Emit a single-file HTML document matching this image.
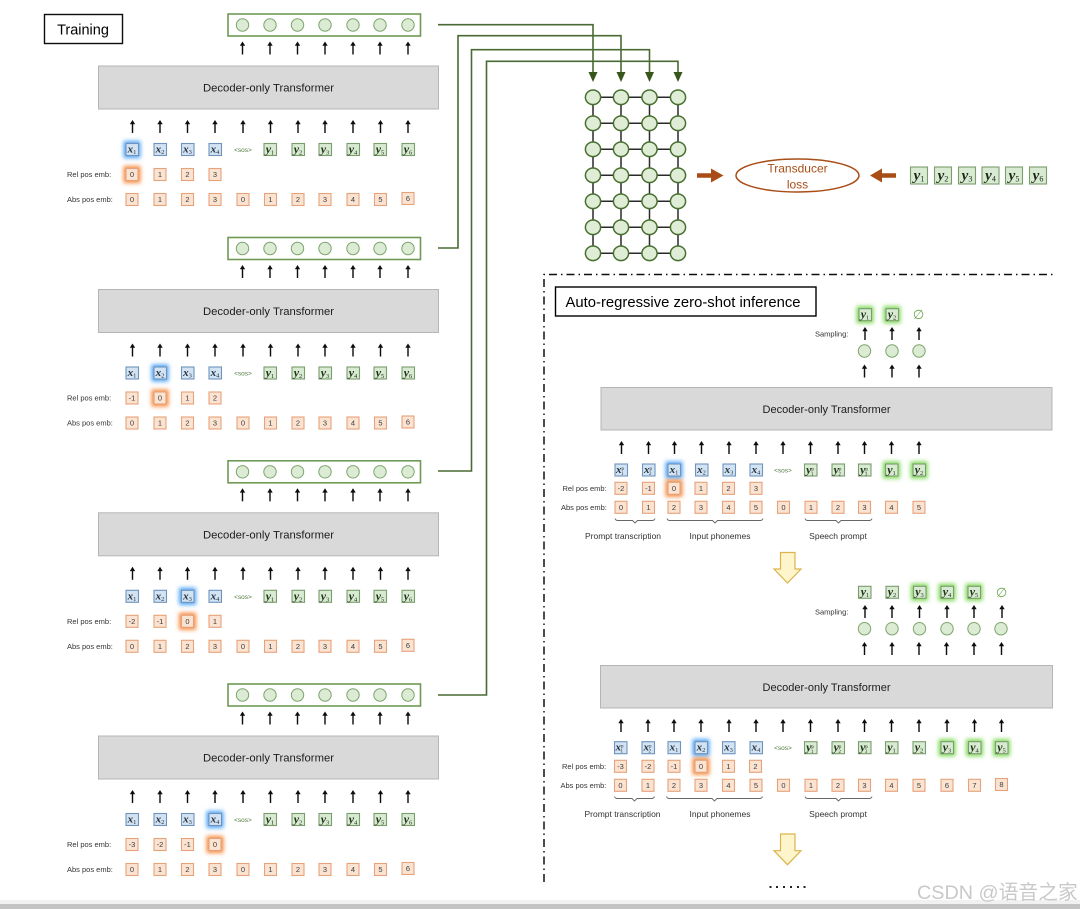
<!DOCTYPE html>
<html><head><meta charset="utf-8"><style>
html,body{margin:0;padding:0;background:#fff}
svg{display:block}
text{font-family:"Liberation Sans","Noto Sans CJK SC",sans-serif}
.d{font-size:11px;fill:#1c1c1c;text-anchor:middle}
.l{font-size:7.5px;fill:#333}
.c{font-size:8.5px;fill:#333;text-anchor:middle}
.n{font-size:7.5px;fill:#3c3c3c;text-anchor:middle}
.m{font-family:"Liberation Serif",serif;font-style:italic;font-weight:bold;font-size:11px;fill:#26303a;text-anchor:middle}
.g{fill:#1f3015;font-size:12px}
.s{font-size:6.5px;font-weight:normal;font-style:normal}
.sos{font-size:6.5px;fill:#4f7a3e;text-anchor:middle}
</style></head><body>
<svg xmlns="http://www.w3.org/2000/svg" width="1080" height="909" viewBox="0 0 1080 909">
<defs>
<filter id="soft" filterUnits="userSpaceOnUse" x="0" y="0" width="1080" height="909"><feGaussianBlur stdDeviation="0.22"/></filter>
<filter id="glow" x="-80%" y="-80%" width="260%" height="260%"><feGaussianBlur stdDeviation="2"/></filter>
<g id="a"><path d="M0 6.5V-3" stroke="#111" stroke-width="1.400" fill="none"/><path d="M-2.700-2.200L0-6.500L2.700-2.200Z" fill="#111"/></g>
<rect id="b" x="-6" y="-6" width="12.500" height="12" fill="#d2e3f3" stroke="#6f93bd" stroke-width="1.100"/>
<rect id="t" x="-6" y="-6" width="12.500" height="12" fill="#d9ead3" stroke="#7a9d6c" stroke-width="1.100"/>
<rect id="o" x="-6" y="-6" width="12" height="12" fill="#fbe3d2" stroke="#e6a27a" stroke-width="1.100"/>
<circle id="q" r="6.200" fill="#dcebd4" stroke="#7da56c" stroke-width="1"/>
<ellipse id="z" rx="7.600" ry="7.300" fill="#dfecd6" stroke="#47702f" stroke-width="1.500"/>
<rect id="gb" x="-8.500" y="-8.500" width="17" height="17" fill="#7ed957"/>
<rect id="bb" x="-8.500" y="-8.500" width="17" height="17" fill="#4da3f5"/>
<rect id="ob" x="-8.500" y="-8.500" width="17" height="17" fill="#f58b3f"/>
<g id="P">
<rect x="228" y="14" width="192.500" height="22" fill="#fff" stroke="#6e9a55" stroke-width="1.600"/>
<use href="#q" x="242.500" y="25"/><use href="#q" x="270" y="25"/><use href="#q" x="297.500" y="25"/><use href="#q" x="325" y="25"/><use href="#q" x="353" y="25"/><use href="#q" x="380" y="25"/><use href="#q" x="408" y="25"/>
<use href="#a" x="242.500" y="48"/><use href="#a" x="270" y="48"/><use href="#a" x="297.500" y="48"/><use href="#a" x="325" y="48"/><use href="#a" x="353" y="48"/><use href="#a" x="380" y="48"/><use href="#a" x="408" y="48"/>
<rect x="98.500" y="66" width="340" height="43" fill="#d9d9d9" stroke="#b5b5b5"/>
<use href="#a" x="132.500" y="126.500"/><use href="#a" x="160" y="126.500"/><use href="#a" x="187.500" y="126.500"/><use href="#a" x="215" y="126.500"/><use href="#a" x="243" y="126.500"/><use href="#a" x="270.500" y="126.500"/><use href="#a" x="298" y="126.500"/><use href="#a" x="325" y="126.500"/><use href="#a" x="353" y="126.500"/><use href="#a" x="380.500" y="126.500"/><use href="#a" x="408" y="126.500"/>
<use href="#b" x="132" y="149.500"/><use href="#b" x="160" y="149.500"/><use href="#b" x="187.500" y="149.500"/><use href="#b" x="215" y="149.500"/>
<use href="#t" x="270" y="149.500"/><use href="#t" x="298" y="149.500"/><use href="#t" x="325" y="149.500"/><use href="#t" x="353" y="149.500"/><use href="#t" x="380" y="149.500"/><use href="#t" x="408" y="149.500"/>
<use href="#o" x="132" y="174.500"/><use href="#o" x="160" y="174.500"/><use href="#o" x="187.500" y="174.500"/><use href="#o" x="215" y="174.500"/>
<use href="#o" x="132" y="199.500"/><use href="#o" x="160" y="199.500"/><use href="#o" x="187.500" y="199.500"/><use href="#o" x="215" y="199.500"/><use href="#o" x="243" y="199.500"/><use href="#o" x="270.500" y="199.500"/><use href="#o" x="298" y="199.500"/><use href="#o" x="325" y="199.500"/><use href="#o" x="353" y="199.500"/><use href="#o" x="380.500" y="199.500"/><use href="#o" x="408" y="198.500"/>
</g>
</defs>
<rect width="1080" height="909" fill="#fff"/>
<g filter="url(#soft)">

<rect x="44.500" y="14.500" width="78" height="29" fill="#fff" stroke="#111" stroke-width="1.400"/>
<text x="83" y="34.500" font-size="14.500" fill="#000" text-anchor="middle">Training</text>

<!-- Panel 1 -->
<g>
<use href="#bb" x="132" y="149.500" filter="url(#glow)"/><use href="#ob" x="132" y="174.500" filter="url(#glow)"/>
<use href="#P"/>
<text class="d" x="268.500" y="91.500" textLength="131" lengthAdjust="spacingAndGlyphs">Decoder-only Transformer</text>
<text class="m" x="132" y="152.500">x<tspan class="s" dy="1.500">1</tspan></text><text class="m" x="160" y="152.500">x<tspan class="s" dy="1.500">2</tspan></text><text class="m" x="187.500" y="152.500">x<tspan class="s" dy="1.500">3</tspan></text><text class="m" x="215" y="152.500">x<tspan class="s" dy="1.500">4</tspan></text>
<text class="sos" x="243" y="152">&lt;sos&gt;</text>
<text class="m g" x="270" y="153">y<tspan class="s" dy="1.500">1</tspan></text><text class="m g" x="298" y="153">y<tspan class="s" dy="1.500">2</tspan></text><text class="m g" x="325" y="153">y<tspan class="s" dy="1.500">3</tspan></text><text class="m g" x="353" y="153">y<tspan class="s" dy="1.500">4</tspan></text><text class="m g" x="380" y="153">y<tspan class="s" dy="1.500">5</tspan></text><text class="m g" x="408" y="153">y<tspan class="s" dy="1.500">6</tspan></text>
<text class="l" x="67" y="177">Rel pos emb:</text><text class="l" x="67" y="202">Abs pos emb:</text>
<text class="n" x="132" y="177">0</text><text class="n" x="160" y="177">1</text><text class="n" x="187.500" y="177">2</text><text class="n" x="215" y="177">3</text>
<text class="n" x="132" y="202">0</text><text class="n" x="160" y="202">1</text><text class="n" x="187.500" y="202">2</text><text class="n" x="215" y="202">3</text><text class="n" x="243" y="202">0</text><text class="n" x="270.500" y="202">1</text><text class="n" x="298" y="202">2</text><text class="n" x="325" y="202">3</text><text class="n" x="353" y="202">4</text><text class="n" x="380.500" y="202">5</text><text class="n" x="408" y="201">6</text>
</g>

<!-- Panel 2 -->
<g transform="translate(0,223.500)">
<use href="#bb" x="160" y="149.500" filter="url(#glow)"/><use href="#ob" x="160" y="174.500" filter="url(#glow)"/>
<use href="#P"/>
<text class="d" x="268.500" y="91.500" textLength="131" lengthAdjust="spacingAndGlyphs">Decoder-only Transformer</text>
<text class="m" x="132" y="152.500">x<tspan class="s" dy="1.500">1</tspan></text><text class="m" x="160" y="152.500">x<tspan class="s" dy="1.500">2</tspan></text><text class="m" x="187.500" y="152.500">x<tspan class="s" dy="1.500">3</tspan></text><text class="m" x="215" y="152.500">x<tspan class="s" dy="1.500">4</tspan></text>
<text class="sos" x="243" y="152">&lt;sos&gt;</text>
<text class="m g" x="270" y="153">y<tspan class="s" dy="1.500">1</tspan></text><text class="m g" x="298" y="153">y<tspan class="s" dy="1.500">2</tspan></text><text class="m g" x="325" y="153">y<tspan class="s" dy="1.500">3</tspan></text><text class="m g" x="353" y="153">y<tspan class="s" dy="1.500">4</tspan></text><text class="m g" x="380" y="153">y<tspan class="s" dy="1.500">5</tspan></text><text class="m g" x="408" y="153">y<tspan class="s" dy="1.500">6</tspan></text>
<text class="l" x="67" y="177">Rel pos emb:</text><text class="l" x="67" y="202">Abs pos emb:</text>
<text class="n" x="132" y="177">-1</text><text class="n" x="160" y="177">0</text><text class="n" x="187.500" y="177">1</text><text class="n" x="215" y="177">2</text>
<text class="n" x="132" y="202">0</text><text class="n" x="160" y="202">1</text><text class="n" x="187.500" y="202">2</text><text class="n" x="215" y="202">3</text><text class="n" x="243" y="202">0</text><text class="n" x="270.500" y="202">1</text><text class="n" x="298" y="202">2</text><text class="n" x="325" y="202">3</text><text class="n" x="353" y="202">4</text><text class="n" x="380.500" y="202">5</text><text class="n" x="408" y="201">6</text>
</g>

<!-- Panel 3 -->
<g transform="translate(0,446.800)">
<use href="#bb" x="187.500" y="149.500" filter="url(#glow)"/><use href="#ob" x="187.500" y="174.500" filter="url(#glow)"/>
<use href="#P"/>
<text class="d" x="268.500" y="91.500" textLength="131" lengthAdjust="spacingAndGlyphs">Decoder-only Transformer</text>
<text class="m" x="132" y="152.500">x<tspan class="s" dy="1.500">1</tspan></text><text class="m" x="160" y="152.500">x<tspan class="s" dy="1.500">2</tspan></text><text class="m" x="187.500" y="152.500">x<tspan class="s" dy="1.500">3</tspan></text><text class="m" x="215" y="152.500">x<tspan class="s" dy="1.500">4</tspan></text>
<text class="sos" x="243" y="152">&lt;sos&gt;</text>
<text class="m g" x="270" y="153">y<tspan class="s" dy="1.500">1</tspan></text><text class="m g" x="298" y="153">y<tspan class="s" dy="1.500">2</tspan></text><text class="m g" x="325" y="153">y<tspan class="s" dy="1.500">3</tspan></text><text class="m g" x="353" y="153">y<tspan class="s" dy="1.500">4</tspan></text><text class="m g" x="380" y="153">y<tspan class="s" dy="1.500">5</tspan></text><text class="m g" x="408" y="153">y<tspan class="s" dy="1.500">6</tspan></text>
<text class="l" x="67" y="177">Rel pos emb:</text><text class="l" x="67" y="202">Abs pos emb:</text>
<text class="n" x="132" y="177">-2</text><text class="n" x="160" y="177">-1</text><text class="n" x="187.500" y="177">0</text><text class="n" x="215" y="177">1</text>
<text class="n" x="132" y="202">0</text><text class="n" x="160" y="202">1</text><text class="n" x="187.500" y="202">2</text><text class="n" x="215" y="202">3</text><text class="n" x="243" y="202">0</text><text class="n" x="270.500" y="202">1</text><text class="n" x="298" y="202">2</text><text class="n" x="325" y="202">3</text><text class="n" x="353" y="202">4</text><text class="n" x="380.500" y="202">5</text><text class="n" x="408" y="201">6</text>
</g>

<!-- Panel 4 -->
<g transform="translate(0,670)">
<use href="#bb" x="215" y="149.500" filter="url(#glow)"/><use href="#ob" x="215" y="174.500" filter="url(#glow)"/>
<use href="#P"/>
<text class="d" x="268.500" y="91.500" textLength="131" lengthAdjust="spacingAndGlyphs">Decoder-only Transformer</text>
<text class="m" x="132" y="152.500">x<tspan class="s" dy="1.500">1</tspan></text><text class="m" x="160" y="152.500">x<tspan class="s" dy="1.500">2</tspan></text><text class="m" x="187.500" y="152.500">x<tspan class="s" dy="1.500">3</tspan></text><text class="m" x="215" y="152.500">x<tspan class="s" dy="1.500">4</tspan></text>
<text class="sos" x="243" y="152">&lt;sos&gt;</text>
<text class="m g" x="270" y="153">y<tspan class="s" dy="1.500">1</tspan></text><text class="m g" x="298" y="153">y<tspan class="s" dy="1.500">2</tspan></text><text class="m g" x="325" y="153">y<tspan class="s" dy="1.500">3</tspan></text><text class="m g" x="353" y="153">y<tspan class="s" dy="1.500">4</tspan></text><text class="m g" x="380" y="153">y<tspan class="s" dy="1.500">5</tspan></text><text class="m g" x="408" y="153">y<tspan class="s" dy="1.500">6</tspan></text>
<text class="l" x="67" y="177">Rel pos emb:</text><text class="l" x="67" y="202">Abs pos emb:</text>
<text class="n" x="132" y="177">-3</text><text class="n" x="160" y="177">-2</text><text class="n" x="187.500" y="177">-1</text><text class="n" x="215" y="177">0</text>
<text class="n" x="132" y="202">0</text><text class="n" x="160" y="202">1</text><text class="n" x="187.500" y="202">2</text><text class="n" x="215" y="202">3</text><text class="n" x="243" y="202">0</text><text class="n" x="270.500" y="202">1</text><text class="n" x="298" y="202">2</text><text class="n" x="325" y="202">3</text><text class="n" x="353" y="202">4</text><text class="n" x="380.500" y="202">5</text><text class="n" x="408" y="201">6</text>
</g>

<!-- Connectors -->
<g fill="none" stroke="#4a6b33" stroke-width="1.600">
<path d="M438 24.700H593V73"/>
<path d="M438 248H458V35.700H621V73"/>
<path d="M438 471H471.500V49.700H649.500V73"/>
<path d="M438 695H486.500V61.300H678V73"/>
</g>
<g fill="#38571f">
<path d="M588.500 72H597.500L593 82Z"/><path d="M616.500 72H625.500L621 82Z"/><path d="M645 72H654L649.500 82Z"/><path d="M673.500 72H682.500L678 82Z"/>
</g>

<!-- Lattice -->
<g stroke="#2b2b2b" stroke-width="1.500" fill="none">
<path d="M593 97V253M621 97V253M649.500 97V253M678 97V253"/>
<path d="M593 97.300H678M593 123.300H678M593 149.300H678M593 175.300H678M593 201.300H678M593 227.300H678M593 253.300H678"/>
</g>
<use href="#z" x="593" y="97.300"/><use href="#z" x="621" y="97.300"/><use href="#z" x="649.500" y="97.300"/><use href="#z" x="678" y="97.300"/>
<use href="#z" x="593" y="123.300"/><use href="#z" x="621" y="123.300"/><use href="#z" x="649.500" y="123.300"/><use href="#z" x="678" y="123.300"/>
<use href="#z" x="593" y="149.300"/><use href="#z" x="621" y="149.300"/><use href="#z" x="649.500" y="149.300"/><use href="#z" x="678" y="149.300"/>
<use href="#z" x="593" y="175.300"/><use href="#z" x="621" y="175.300"/><use href="#z" x="649.500" y="175.300"/><use href="#z" x="678" y="175.300"/>
<use href="#z" x="593" y="201.300"/><use href="#z" x="621" y="201.300"/><use href="#z" x="649.500" y="201.300"/><use href="#z" x="678" y="201.300"/>
<use href="#z" x="593" y="227.300"/><use href="#z" x="621" y="227.300"/><use href="#z" x="649.500" y="227.300"/><use href="#z" x="678" y="227.300"/>
<use href="#z" x="593" y="253.300"/><use href="#z" x="621" y="253.300"/><use href="#z" x="649.500" y="253.300"/><use href="#z" x="678" y="253.300"/>

<!-- Loss -->
<path d="M697 173.300H711V168.500L723.500 175.500L711 182.500V177.700H697Z" fill="#a94d17"/>
<path d="M896 173.300H882V168.500L870 175.500L882 182.500V177.700H896Z" fill="#a94d17"/>
<ellipse cx="797.500" cy="175.500" rx="61.500" ry="16.500" fill="#fff" stroke="#a94d17" stroke-width="1.500"/>
<text x="797.500" y="172.500" font-size="12" fill="#a94d17" text-anchor="middle">Transducer</text>
<text x="797.500" y="188.500" font-size="12" fill="#a94d17" text-anchor="middle">loss</text>
<g>
<rect x="910.500" y="167" width="17" height="17" fill="#d9ead3" stroke="#7a9d6c" stroke-width="1.100"/><rect x="934.500" y="167" width="17" height="17" fill="#d9ead3" stroke="#7a9d6c" stroke-width="1.100"/><rect x="958.500" y="167" width="17" height="17" fill="#d9ead3" stroke="#7a9d6c" stroke-width="1.100"/><rect x="982" y="167" width="17" height="17" fill="#d9ead3" stroke="#7a9d6c" stroke-width="1.100"/><rect x="1005.500" y="167" width="17" height="17" fill="#d9ead3" stroke="#7a9d6c" stroke-width="1.100"/><rect x="1029.500" y="167" width="17" height="17" fill="#d9ead3" stroke="#7a9d6c" stroke-width="1.100"/>
</g>
<g>
<text class="m" style="font-size:15px;fill:#1a2714" x="919" y="180">y<tspan class="s" style="font-size:8px" dy="1.500">1</tspan></text>
<text class="m" style="font-size:15px;fill:#1a2714" x="943" y="180">y<tspan class="s" style="font-size:8px" dy="1.500">2</tspan></text>
<text class="m" style="font-size:15px;fill:#1a2714" x="967" y="180">y<tspan class="s" style="font-size:8px" dy="1.500">3</tspan></text>
<text class="m" style="font-size:15px;fill:#1a2714" x="990.500" y="180">y<tspan class="s" style="font-size:8px" dy="1.500">4</tspan></text>
<text class="m" style="font-size:15px;fill:#1a2714" x="1014" y="180">y<tspan class="s" style="font-size:8px" dy="1.500">5</tspan></text>
<text class="m" style="font-size:15px;fill:#1a2714" x="1038" y="180">y<tspan class="s" style="font-size:8px" dy="1.500">6</tspan></text>
</g>

<!-- Dash-dot frame -->
<path d="M544 882V274.500H1055" fill="none" stroke="#111" stroke-width="1.500" stroke-dasharray="8 4 1.500 4"/>
<rect x="555.500" y="287" width="260.500" height="29" fill="#fff" stroke="#000" stroke-width="1.400"/>
<text x="683" y="307" font-size="14.500" fill="#000" text-anchor="middle" textLength="235" lengthAdjust="spacingAndGlyphs">Auto-regressive zero-shot inference</text>

<!-- Inference 1 top -->
<use href="#gb" x="865" y="314.700" filter="url(#glow)"/><use href="#gb" x="892" y="314.700" filter="url(#glow)"/>
<use href="#t" x="865" y="314.700"/><use href="#t" x="892" y="314.700"/>
<text class="m g" x="865" y="318">y<tspan class="s" dy="1.500">1</tspan></text><text class="m g" x="892" y="318">y<tspan class="s" dy="1.500">2</tspan></text>
<text x="918.500" y="319" font-size="13" fill="#6aa84f" text-anchor="middle" style="font-family:'DejaVu Sans',sans-serif">∅</text>
<text class="l" x="815" y="336.500">Sampling:</text>
<use href="#a" x="865" y="333.500"/><use href="#a" x="892" y="333.500"/><use href="#a" x="919" y="333.500"/>
<use href="#q" x="864.500" y="351"/><use href="#q" x="892" y="351"/><use href="#q" x="919" y="351"/>
<use href="#a" x="864.500" y="371"/><use href="#a" x="892" y="371"/><use href="#a" x="919" y="371"/>
<rect x="601" y="387.500" width="451" height="42.500" fill="#d9d9d9" stroke="#b5b5b5"/>
<text class="d" x="826.500" y="413" textLength="128" lengthAdjust="spacingAndGlyphs">Decoder-only Transformer</text>
<use href="#a" x="621.500" y="447.500"/><use href="#a" x="648.500" y="447.500"/><use href="#a" x="674.500" y="447.500"/><use href="#a" x="701.500" y="447.500"/><use href="#a" x="729" y="447.500"/><use href="#a" x="756" y="447.500"/><use href="#a" x="783" y="447.500"/><use href="#a" x="810.500" y="447.500"/><use href="#a" x="838" y="447.500"/><use href="#a" x="864.500" y="447.500"/><use href="#a" x="891.500" y="447.500"/><use href="#a" x="919" y="447.500"/>
<use href="#bb" x="674" y="470" filter="url(#glow)"/><use href="#ob" x="674" y="488.300" filter="url(#glow)"/><use href="#gb" x="891.500" y="470" filter="url(#glow)"/><use href="#gb" x="919" y="470" filter="url(#glow)"/>
<use href="#b" x="621" y="470"/><use href="#b" x="648.500" y="470"/><use href="#b" x="674" y="470"/><use href="#b" x="701.500" y="470"/><use href="#b" x="729" y="470"/><use href="#b" x="756" y="470"/>
<use href="#t" x="810.500" y="470"/><use href="#t" x="838" y="470"/><use href="#t" x="864.500" y="470"/><use href="#t" x="891.500" y="470"/><use href="#t" x="919" y="470"/>
<text class="m" x="620" y="473">x<tspan class="s" style="font-size:5px" dy="-3">p</tspan><tspan class="s" style="font-size:5px" dx="-3" dy="5">1</tspan></text>
<text class="m" x="648" y="473">x<tspan class="s" style="font-size:5px" dy="-3">p</tspan><tspan class="s" style="font-size:5px" dx="-3" dy="5">2</tspan></text>
<text class="m" x="674" y="473">x<tspan class="s" dy="1.500">1</tspan></text><text class="m" x="701.500" y="473">x<tspan class="s" dy="1.500">2</tspan></text><text class="m" x="729" y="473">x<tspan class="s" dy="1.500">3</tspan></text><text class="m" x="756" y="473">x<tspan class="s" dy="1.500">4</tspan></text>
<text class="sos" x="783" y="472.500">&lt;sos&gt;</text>
<text class="m g" x="810" y="473.500">y<tspan class="s" style="font-size:5px" dy="-3">p</tspan><tspan class="s" style="font-size:5px" dx="-3" dy="5">1</tspan></text>
<text class="m g" x="837.500" y="473.500">y<tspan class="s" style="font-size:5px" dy="-3">p</tspan><tspan class="s" style="font-size:5px" dx="-3" dy="5">2</tspan></text>
<text class="m g" x="864" y="473.500">y<tspan class="s" style="font-size:5px" dy="-3">p</tspan><tspan class="s" style="font-size:5px" dx="-3" dy="5">3</tspan></text>
<text class="m g" x="891.500" y="473.500">y<tspan class="s" dy="1.500">1</tspan></text><text class="m g" x="919" y="473.500">y<tspan class="s" dy="1.500">2</tspan></text>
<text class="l" x="562.500" y="490.800">Rel pos emb:</text><text class="l" x="561" y="509.800">Abs pos emb:</text>
<use href="#o" x="621" y="488.300"/><use href="#o" x="648.500" y="488.300"/><use href="#o" x="674" y="488.300"/><use href="#o" x="701" y="488.300"/><use href="#o" x="728.500" y="488.300"/><use href="#o" x="756" y="488.300"/>
<text class="n" x="621" y="490.800">-2</text><text class="n" x="648.500" y="490.800">-1</text><text class="n" x="674" y="490.800">0</text><text class="n" x="701" y="490.800">1</text><text class="n" x="728.500" y="490.800">2</text><text class="n" x="756" y="490.800">3</text>
<use href="#o" x="621" y="507.300"/><use href="#o" x="648.500" y="507.300"/><use href="#o" x="674" y="507.300"/><use href="#o" x="701" y="507.300"/><use href="#o" x="728.500" y="507.300"/><use href="#o" x="756" y="507.300"/><use href="#o" x="783.500" y="507.300"/><use href="#o" x="811" y="507.300"/><use href="#o" x="838" y="507.300"/><use href="#o" x="864.500" y="507.300"/><use href="#o" x="891.500" y="507.300"/><use href="#o" x="919" y="507.300"/>
<text class="n" x="621" y="509.800">0</text><text class="n" x="648.500" y="509.800">1</text><text class="n" x="674" y="509.800">2</text><text class="n" x="701" y="509.800">3</text><text class="n" x="728.500" y="509.800">4</text><text class="n" x="756" y="509.800">5</text><text class="n" x="783.500" y="509.800">0</text><text class="n" x="811" y="509.800">1</text><text class="n" x="838" y="509.800">2</text><text class="n" x="864.500" y="509.800">3</text><text class="n" x="891.500" y="509.800">4</text><text class="n" x="919" y="509.800">5</text>
<g fill="none" stroke="#666" stroke-width=".9">
<path d="M615 518.500Q615.500 520.500 618 520.500H632.500L635 523L637.500 520.500H652Q654.500 520.500 655 518.500"/>
<path d="M667 518.500Q667.500 520.500 670 520.500H712.500L715 523L717.500 520.500H760Q762.500 520.500 763 518.500"/>
<path d="M805 518.500Q805.500 520.500 808 520.500H836L838.500 523L841 520.500H869Q871.500 520.500 872 518.500"/>
</g>
<text class="c" x="623" y="539">Prompt transcription</text><text class="c" x="720" y="539">Input phonemes</text><text class="c" x="838" y="539">Speech prompt</text>
<path d="M780.500 552.500H795V569H801L787.500 583L774 569H780.500Z" fill="#fff5cc" stroke="#dcb44b" stroke-width="1.200"/>

<!-- Inference 2 top -->
<use href="#gb" x="919.500" y="592.300" filter="url(#glow)"/><use href="#gb" x="947" y="592.300" filter="url(#glow)"/><use href="#gb" x="974" y="592.300" filter="url(#glow)"/>
<use href="#t" x="864.500" y="592.300"/><use href="#t" x="892" y="592.300"/><use href="#t" x="919.500" y="592.300"/><use href="#t" x="947" y="592.300"/><use href="#t" x="974" y="592.300"/>
<text class="m g" x="865" y="595.500">y<tspan class="s" dy="1.500">1</tspan></text><text class="m g" x="892" y="595.500">y<tspan class="s" dy="1.500">2</tspan></text><text class="m g" x="919.500" y="595.500">y<tspan class="s" dy="1.500">3</tspan></text><text class="m g" x="947" y="595.500">y<tspan class="s" dy="1.500">4</tspan></text><text class="m g" x="974" y="595.500">y<tspan class="s" dy="1.500">5</tspan></text>
<text x="1001.500" y="597" font-size="13" fill="#6aa84f" text-anchor="middle" style="font-family:'DejaVu Sans',sans-serif">∅</text>
<text class="l" x="815" y="614.500">Sampling:</text>
<use href="#a" x="865" y="611.500"/><use href="#a" x="892" y="611.500"/><use href="#a" x="919.500" y="611.500"/><use href="#a" x="947" y="611.500"/><use href="#a" x="974" y="611.500"/><use href="#a" x="1002" y="611.500"/>
<use href="#q" x="864.500" y="628.700"/><use href="#q" x="892" y="628.700"/><use href="#q" x="919.500" y="628.700"/><use href="#q" x="947" y="628.700"/><use href="#q" x="974" y="628.700"/><use href="#q" x="1001" y="628.700"/>
<use href="#a" x="864.500" y="648.500"/><use href="#a" x="892" y="648.500"/><use href="#a" x="919" y="648.500"/><use href="#a" x="946.500" y="648.500"/><use href="#a" x="974" y="648.500"/><use href="#a" x="1001.500" y="648.500"/>
<rect x="600.500" y="665.500" width="452" height="42.500" fill="#d9d9d9" stroke="#b5b5b5"/>
<text class="d" x="826.500" y="691" textLength="128" lengthAdjust="spacingAndGlyphs">Decoder-only Transformer</text>
<use href="#a" x="621" y="725.500"/><use href="#a" x="648" y="725.500"/><use href="#a" x="674" y="725.500"/><use href="#a" x="701" y="725.500"/><use href="#a" x="729" y="725.500"/><use href="#a" x="756" y="725.500"/><use href="#a" x="783" y="725.500"/><use href="#a" x="810.500" y="725.500"/><use href="#a" x="838" y="725.500"/><use href="#a" x="864.500" y="725.500"/><use href="#a" x="891.500" y="725.500"/><use href="#a" x="919" y="725.500"/><use href="#a" x="947" y="725.500"/><use href="#a" x="974.500" y="725.500"/><use href="#a" x="1001.500" y="725.500"/>
<use href="#bb" x="701" y="747.700" filter="url(#glow)"/><use href="#ob" x="701" y="766.300" filter="url(#glow)"/><use href="#gb" x="947" y="747.700" filter="url(#glow)"/><use href="#gb" x="974.500" y="747.700" filter="url(#glow)"/><use href="#gb" x="1001.500" y="747.700" filter="url(#glow)"/>
<use href="#b" x="620.500" y="747.700"/><use href="#b" x="648" y="747.700"/><use href="#b" x="674" y="747.700"/><use href="#b" x="701" y="747.700"/><use href="#b" x="728.500" y="747.700"/><use href="#b" x="756" y="747.700"/>
<use href="#t" x="810.500" y="747.700"/><use href="#t" x="838" y="747.700"/><use href="#t" x="864.500" y="747.700"/><use href="#t" x="891.500" y="747.700"/><use href="#t" x="919" y="747.700"/><use href="#t" x="947" y="747.700"/><use href="#t" x="974.500" y="747.700"/><use href="#t" x="1001.500" y="747.700"/>
<text class="m" x="619.500" y="750.700">x<tspan class="s" style="font-size:5px" dy="-3">p</tspan><tspan class="s" style="font-size:5px" dx="-3" dy="5">1</tspan></text>
<text class="m" x="647.500" y="750.700">x<tspan class="s" style="font-size:5px" dy="-3">p</tspan><tspan class="s" style="font-size:5px" dx="-3" dy="5">2</tspan></text>
<text class="m" x="674" y="750.700">x<tspan class="s" dy="1.500">1</tspan></text><text class="m" x="701" y="750.700">x<tspan class="s" dy="1.500">2</tspan></text><text class="m" x="728.500" y="750.700">x<tspan class="s" dy="1.500">3</tspan></text><text class="m" x="756" y="750.700">x<tspan class="s" dy="1.500">4</tspan></text>
<text class="sos" x="783" y="750.200">&lt;sos&gt;</text>
<text class="m g" x="810" y="751">y<tspan class="s" style="font-size:5px" dy="-3">p</tspan><tspan class="s" style="font-size:5px" dx="-3" dy="5">1</tspan></text>
<text class="m g" x="837.500" y="751">y<tspan class="s" style="font-size:5px" dy="-3">p</tspan><tspan class="s" style="font-size:5px" dx="-3" dy="5">2</tspan></text>
<text class="m g" x="864" y="751">y<tspan class="s" style="font-size:5px" dy="-3">p</tspan><tspan class="s" style="font-size:5px" dx="-3" dy="5">3</tspan></text>
<text class="m g" x="891.500" y="751">y<tspan class="s" dy="1.500">1</tspan></text><text class="m g" x="919" y="751">y<tspan class="s" dy="1.500">2</tspan></text><text class="m g" x="947" y="751">y<tspan class="s" dy="1.500">3</tspan></text><text class="m g" x="974.500" y="751">y<tspan class="s" dy="1.500">4</tspan></text><text class="m g" x="1001.500" y="751">y<tspan class="s" dy="1.500">5</tspan></text>
<text class="l" x="562" y="768.800">Rel pos emb:</text><text class="l" x="560.500" y="788">Abs pos emb:</text>
<use href="#o" x="620.500" y="766.300"/><use href="#o" x="648" y="766.300"/><use href="#o" x="674" y="766.300"/><use href="#o" x="701" y="766.300"/><use href="#o" x="728.500" y="766.300"/><use href="#o" x="755.500" y="766.300"/>
<text class="n" x="620.500" y="768.800">-3</text><text class="n" x="648" y="768.800">-2</text><text class="n" x="674" y="768.800">-1</text><text class="n" x="701" y="768.800">0</text><text class="n" x="728.500" y="768.800">1</text><text class="n" x="755.500" y="768.800">2</text>
<use href="#o" x="620.500" y="785.300"/><use href="#o" x="648" y="785.300"/><use href="#o" x="674" y="785.300"/><use href="#o" x="701" y="785.300"/><use href="#o" x="728.500" y="785.300"/><use href="#o" x="756" y="785.300"/><use href="#o" x="783.500" y="785.300"/><use href="#o" x="811" y="785.300"/><use href="#o" x="838" y="785.300"/><use href="#o" x="864.500" y="785.300"/><use href="#o" x="891.500" y="785.300"/><use href="#o" x="919" y="785.300"/><use href="#o" x="947" y="785.300"/><use href="#o" x="974.500" y="785.300"/><use href="#o" x="1001.500" y="784.500"/>
<text class="n" x="620.500" y="787.800">0</text><text class="n" x="648" y="787.800">1</text><text class="n" x="674" y="787.800">2</text><text class="n" x="701" y="787.800">3</text><text class="n" x="728.500" y="787.800">4</text><text class="n" x="756" y="787.800">5</text><text class="n" x="783.500" y="787.800">0</text><text class="n" x="811" y="787.800">1</text><text class="n" x="838" y="787.800">2</text><text class="n" x="864.500" y="787.800">3</text><text class="n" x="891.500" y="787.800">4</text><text class="n" x="919" y="787.800">5</text><text class="n" x="947" y="787.800">6</text><text class="n" x="974.500" y="787.800">7</text><text class="n" x="1001.500" y="787">8</text>
<g fill="none" stroke="#666" stroke-width=".9">
<path d="M614.500 796.500Q615 798.500 617.500 798.500H632L634.500 801L637 798.500H651.500Q654 798.500 654.500 796.500"/>
<path d="M666.500 796.500Q667 798.500 669.500 798.500H712L714.500 801L717 798.500H759.500Q762 798.500 762.500 796.500"/>
<path d="M805 796.500Q805.500 798.500 808 798.500H836L838.500 801L841 798.500H869Q871.500 798.500 872 796.500"/>
</g>
<text class="c" x="622.500" y="817">Prompt transcription</text><text class="c" x="720" y="817">Input phonemes</text><text class="c" x="838" y="817">Speech prompt</text>
<path d="M780.500 834H795V850.700H801L787.500 864.700L774 850.700H780.500Z" fill="#fff5cc" stroke="#dcb44b" stroke-width="1.200"/>
<g fill="#222"><rect x="769.500" y="886" width="2" height="2"/><rect x="776" y="886" width="2" height="2"/><rect x="783" y="886" width="2" height="2"/><rect x="790" y="886" width="2" height="2"/><rect x="797" y="886" width="2" height="2"/><rect x="803.500" y="886" width="2" height="2"/></g>
</g>

<!-- Bottom strip and watermark -->
<rect x="0" y="900" width="1080" height="4" fill="#f1f1f1"/>
<rect x="0" y="904" width="1080" height="5" fill="#c4c4c4"/>
<text x="917" y="899" font-size="19.800" fill="#c9c9c9">CSDN @语音之家</text>
</svg>
</body></html>
